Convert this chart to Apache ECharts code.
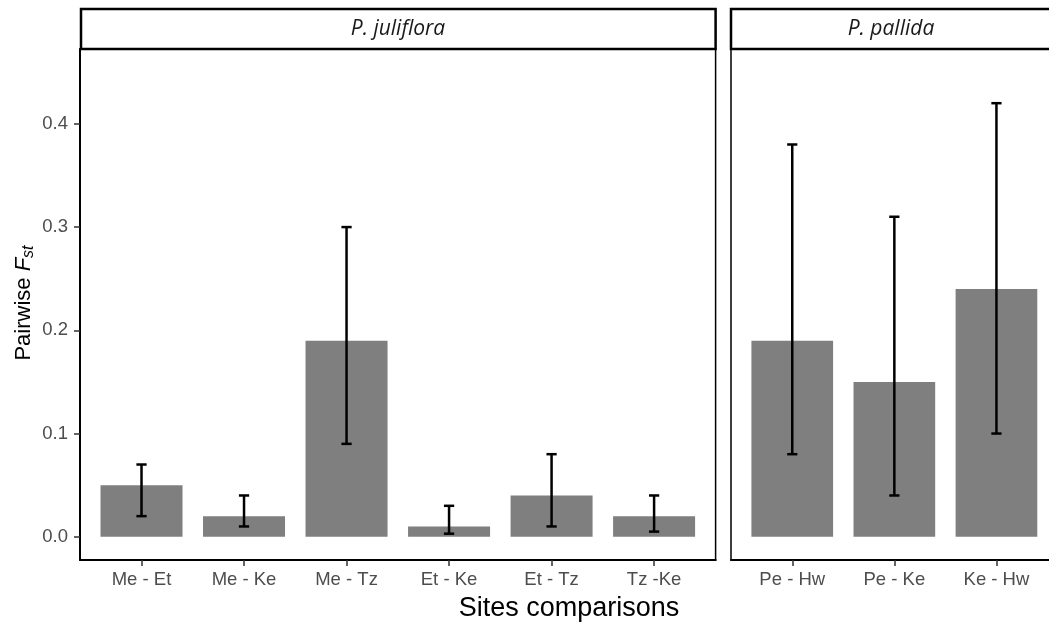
<!DOCTYPE html>
<html>
<head>
<meta charset="utf-8">
<script src="https://cdn.jsdelivr.net/npm/echarts@6/dist/echarts.min.js"></script>
<style>
  html, body { margin: 0; padding: 0; background: #fff; }
  #chart { width: 1049px; height: 626px; }
</style>
</head>
<body>
<div id="chart"></div>
<script>
// Pairwise Fst between sampling sites, faceted by species
const sitesJuliflora = ['Me - Et', 'Me - Ke', 'Me - Tz', 'Et - Ke', 'Et - Tz', 'Tz -Ke'];
const fstJuliflora   = [0.05, 0.02, 0.19, 0.01, 0.04, 0.02];
const lowJuliflora   = [0.02, 0.01, 0.09, 0.003, 0.01, 0.005];
const highJuliflora  = [0.07, 0.04, 0.30, 0.03, 0.08, 0.04];

const sitesPallida = ['Pe - Hw', 'Pe - Ke', 'Ke - Hw'];
const fstPallida   = [0.19, 0.15, 0.24];
const lowPallida   = [0.08, 0.04, 0.10];
const highPallida  = [0.38, 0.31, 0.42];

const yTicks = [0, 0.1, 0.2, 0.3, 0.4];
const facetLabels = ['P. juliflora', 'P. pallida'];

const BAR_FILL = '#7f7f7f';
const TICK_TEXT = '#4d4d4d';
const SANS = '"Liberation Sans", Arial, sans-serif';

const Y_MIN = -0.0225, Y_MAX = 0.4725;

function indexList(n) { return Array.from({ length: n }, (_, i) => i); }

function barItem(params, api) {
  const x = api.value(0), v = api.value(1);
  const p0 = api.coord([x - 0.4, v]);
  const p1 = api.coord([x + 0.4, 0]);
  return {
    type: 'rect',
    shape: { x: p0[0], y: p0[1], width: p1[0] - p0[0], height: p1[1] - p0[1] },
    style: { fill: BAR_FILL }
  };
}

function errItem(params, api) {
  const x = api.value(0);
  const lo = api.coord([x, api.value(1)]);
  const hi = api.coord([x, api.value(2)]);
  const half = api.size([0.1, 0])[0] / 2;
  const st = { stroke: '#000', lineWidth: 2.5 };
  return {
    type: 'group',
    children: [
      { type: 'line', shape: { x1: lo[0], y1: lo[1], x2: hi[0], y2: hi[1] }, style: st },
      { type: 'line', shape: { x1: hi[0] - half, y1: hi[1], x2: hi[0] + half, y2: hi[1] }, style: st },
      { type: 'line', shape: { x1: lo[0] - half, y1: lo[1], x2: lo[0] + half, y2: lo[1] }, style: st }
    ]
  };
}

function xAxisFor(gridIndex, names) {
  const idx = indexList(names.length);
  return {
    type: 'value', gridIndex,
    min: -0.6, max: names.length - 0.4,
    axisLine: { show: true, onZero: false, lineStyle: { color: '#000', width: 2 } },
    axisTick: { show: true, customValues: idx, length: 6, lineStyle: { color: '#333', width: 1.5 } },
    axisLabel: {
      customValues: idx, margin: 10, color: TICK_TEXT, fontSize: 18.5, fontFamily: SANS,
      formatter: v => names[Math.round(v)]
    },
    splitLine: { show: false }
  };
}

const chart = echarts.init(document.getElementById('chart'), null, { renderer: 'canvas' });

chart.setOption({
  backgroundColor: '#fff',
  animation: false,
  grid: [
    { left: 80, top: 49, width: 635.6, bottom: 66, outerBoundsMode: 'none', containLabel: false,
      show: true, borderColor: '#000', borderWidth: 1.5, backgroundColor: 'transparent' },
    // the second facet runs a little past the right edge of the canvas
    { left: 731, top: 49, width: 326.7, bottom: 66, outerBoundsMode: 'none', containLabel: false,
      show: true, borderColor: '#000', borderWidth: 1.5, backgroundColor: 'transparent' }
  ],
  xAxis: [xAxisFor(0, sitesJuliflora), xAxisFor(1, sitesPallida)],
  yAxis: [
    {
      type: 'value', gridIndex: 0, min: Y_MIN, max: Y_MAX,
      axisLine: { show: true, onZero: false, lineStyle: { color: '#000', width: 2 } },
      axisTick: { show: true, customValues: yTicks, length: 6, lineStyle: { color: '#333', width: 1.5 } },
      axisLabel: { customValues: yTicks, margin: 12, color: TICK_TEXT, fontSize: 18.5, fontFamily: SANS, formatter: v => v.toFixed(1) },
      splitLine: { show: false }
    },
    {
      type: 'value', gridIndex: 1, min: Y_MIN, max: Y_MAX,
      axisLine: { show: false }, axisTick: { show: false }, axisLabel: { show: false },
      splitLine: { show: false }
    }
  ],
  series: [
    {
      type: 'custom', xAxisIndex: 0, yAxisIndex: 0, renderItem: barItem,
      data: fstJuliflora.map((v, i) => [i, v])
    },
    {
      type: 'custom', xAxisIndex: 1, yAxisIndex: 1, renderItem: barItem,
      data: fstPallida.map((v, i) => [i, v])
    },
    {
      type: 'custom', xAxisIndex: 0, yAxisIndex: 0, renderItem: errItem, z: 5,
      data: lowJuliflora.map((v, i) => [i, v, highJuliflora[i]])
    },
    {
      type: 'custom', xAxisIndex: 1, yAxisIndex: 1, renderItem: errItem, z: 5,
      data: lowPallida.map((v, i) => [i, v, highPallida[i]])
    }
  ],
  graphic: [
    // facet strips
    { type: 'rect', shape: { x: 81, y: 9, width: 634.6, height: 40 }, style: { fill: '#fff', stroke: '#000', lineWidth: 2.5 }, z: 10 },
    { type: 'text', x: 398, y: 29, z: 11,
      style: { text: facetLabels[0], align: 'center', verticalAlign: 'middle', fontSize: 21, fontStyle: 'italic', fontFamily: '"Open Sans", sans-serif', fill: '#1a1a1a' } },
    { type: 'rect', shape: { x: 731, y: 9, width: 340, height: 40 }, style: { fill: '#fff', stroke: '#000', lineWidth: 2.5 }, z: 10 },
    { type: 'text', x: 891, y: 29, z: 11,
      style: { text: facetLabels[1], align: 'center', verticalAlign: 'middle', fontSize: 21, fontStyle: 'italic', fontFamily: '"Open Sans", sans-serif', fill: '#1a1a1a' } },
    // axis titles
    { type: 'text', x: 569, y: 609, z: 11,
      style: { text: 'Sites comparisons', align: 'center', verticalAlign: 'middle', fontSize: 27, fontFamily: SANS, fill: '#000' } },
    { type: 'text', x: 24, y: 303, rotation: Math.PI / 2, z: 11,
      style: {
        text: '{n|Pairwise }{f|F}{s|st}', align: 'center', verticalAlign: 'middle',
        rich: {
          n: { fontSize: 22, fontFamily: SANS, fill: '#000', lineHeight: 30, verticalAlign: 'middle' },
          f: { fontSize: 22, fontFamily: SANS, fontStyle: 'italic', fill: '#000', lineHeight: 30, verticalAlign: 'middle' },
          s: { fontSize: 16, fontFamily: SANS, fontStyle: 'italic', fill: '#000', lineHeight: 30, verticalAlign: 'middle', padding: [10, 0, 0, 0] }
        }
      } }
  ]
});
</script>
</body>
</html>
